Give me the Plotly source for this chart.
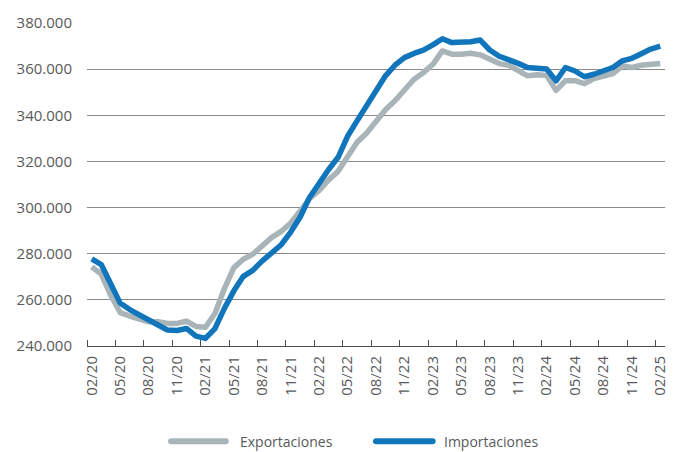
import plotly.graph_objects as go

months = [
    "02/20", "03/20", "04/20", "05/20", "06/20", "07/20", "08/20", "09/20", "10/20", "11/20", "12/20", "01/21",
    "02/21", "03/21", "04/21", "05/21", "06/21", "07/21", "08/21", "09/21", "10/21", "11/21", "12/21", "01/22",
    "02/22", "03/22", "04/22", "05/22", "06/22", "07/22", "08/22", "09/22", "10/22", "11/22", "12/22", "01/23",
    "02/23", "03/23", "04/23", "05/23", "06/23", "07/23", "08/23", "09/23", "10/23", "11/23", "12/23", "01/24",
    "02/24", "03/24", "04/24", "05/24", "06/24", "07/24", "08/24", "09/24", "10/24", "11/24", "12/24", "01/25",
    "02/25",
]

exportaciones = [
    274300, 271200, 262000, 254500, 253000, 251500, 250500, 250500, 249800, 249800, 250800, 248500,
    248100, 254100, 264900, 274000, 277600, 279800, 283300, 287100, 289700, 293300, 298500, 304000,
    307400, 312000, 315700, 322500, 328300, 332200, 337600, 342400, 346300, 351300, 355500, 358500,
    362100, 367900, 366500, 366500, 366900, 366200, 364600, 362400, 361700, 359700, 357100, 357600,
    357300, 350800, 355000, 355000, 353700, 355900, 357100, 358100, 361400, 360700, 361700, 361900,
    362400,
]

importaciones = [
    277800, 275300, 267000, 258600, 255800, 253400, 250900, 249100, 246900, 246700, 247600, 244300,
    243300, 247500, 256300, 263900, 270200, 272800, 276900, 280300, 283900, 289400, 295900, 304500,
    311000, 316500, 321800, 330900, 337600, 344100, 351000, 357100, 361700, 365000, 366800, 368200,
    370500, 373200, 371500, 371500, 371900, 372600, 368300, 365600, 364300, 362500, 360700, 360400,
    360100, 354900, 360700, 359200, 356700, 357800, 359000, 360700, 363600, 364700, 366700, 368700,
    370000,
]

series_names = ["Exportaciones", "Importaciones"]
series_colors = ["#a8b4b8", "#1075bb"]

x_idx = list(range(len(months)))
label_idx = x_idx[::3]
label_txt = months[::3]
boundary_ticks = [i - 0.5 for i in label_idx]

text_color = "#58595b"
font_family = "Open Sans, Noto Sans, sans-serif"

fig = go.Figure()
for name, vals, col in zip(series_names, [exportaciones, importaciones], series_colors):
    fig.add_trace(go.Scatter(
        x=x_idx, y=vals, mode="lines", name=name,
        line=dict(color=col, width=5.5), showlegend=False,
    ))

fig.update_layout(
    width=681, height=452,
    margin=dict(l=87, r=12, t=22, b=106),
    paper_bgcolor="white", plot_bgcolor="white",
    separators=",.",
    font=dict(family=font_family, size=15, color=text_color),
)

fig.update_xaxes(
    range=[-0.5, 60.5],
    tickmode="array", tickvals=label_idx, ticktext=label_txt,
    ticks="", tickangle=-90, ticklabelstandoff=3,
    showgrid=False, zeroline=False,
    showline=True, linecolor="#4d4d4d", linewidth=1,
    minor=dict(tickmode="array", tickvals=boundary_ticks, ticks="inside",
               ticklen=6, tickcolor="#4d4d4d", tickwidth=1, showgrid=False),
    tickfont=dict(size=15, color=text_color),
)

fig.update_yaxes(
    range=[240000, 380000], dtick=20000, tick0=240000,
    tickformat=",", ticks="", ticklabelstandoff=14,
    showgrid=True, gridcolor="#8a8a8a", gridwidth=1,
    zeroline=False, showline=False,
    tickfont=dict(size=15, color=text_color),
)

# legend drawn manually (long line samples as in the reference)
leg_y = -0.295
legend_items = [
    (0.1455, 0.240, 0.2612),
    (0.500, 0.598, 0.615),
]
for (x0, x1, xt), name, col in zip(legend_items, series_names, series_colors):
    fig.add_shape(type="line", xref="paper", yref="paper", x0=x0, x1=x1, y0=leg_y, y1=leg_y,
                  line=dict(color=col, width=6))
    fig.add_annotation(xref="paper", yref="paper", x=xt, y=leg_y, text=name, showarrow=False,
                       xanchor="left", yanchor="middle",
                       font=dict(family=font_family, size=14, color=text_color))

post = (
    "document.body.style.margin='0';document.body.style.overflow='hidden';"
    "document.querySelectorAll('.js-line').forEach(function(p){p.style.strokeLinejoin='round';});"
    "document.querySelectorAll('.shapelayer path').forEach(function(p){p.style.strokeLinecap='round';});"
)
fig.write_html("out.html", config={"displayModeBar": False}, post_script=post)
